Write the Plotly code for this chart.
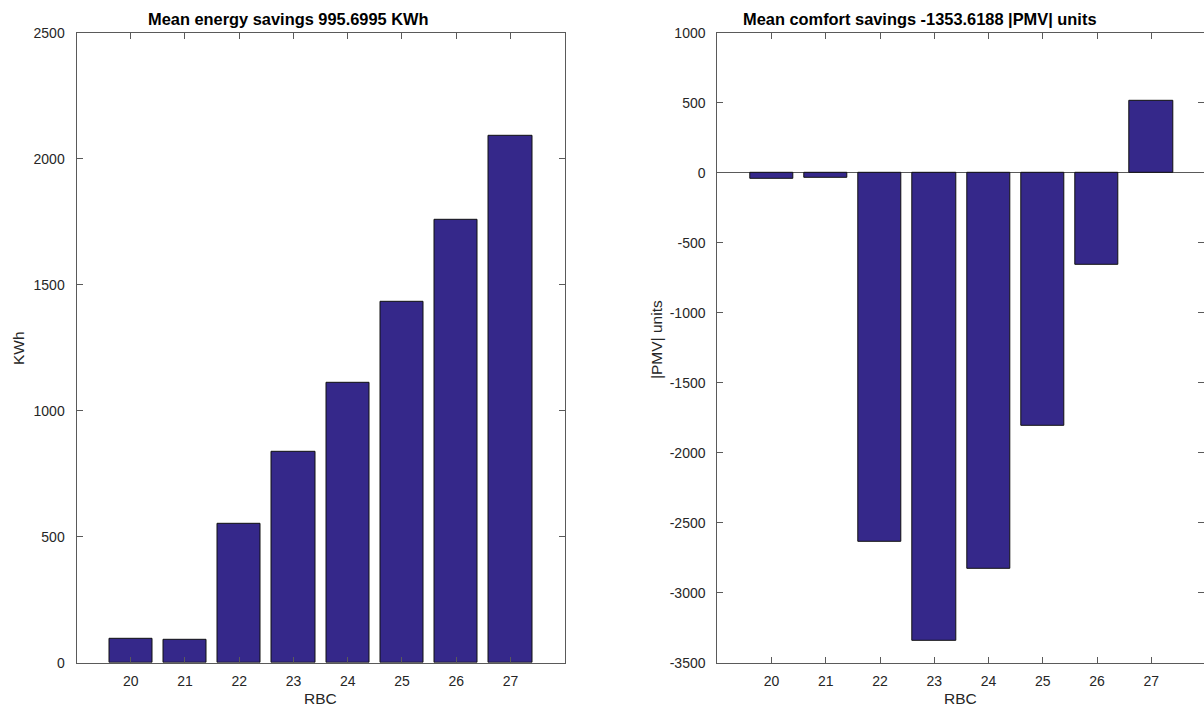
import plotly.graph_objects as go

W, H = 1204, 709

categories = [20, 21, 22, 23, 24, 25, 26, 27]
energy_savings = [94, 89, 553, 839, 1109, 1434, 1757, 2091]
comfort_savings = [-46, -36, -2639, -3344, -2832, -1804, -654, 511]

title_left = "Mean energy savings 995.6995 KWh"
title_right = "Mean comfort savings -1353.6188 |PMV| units"
ylabel_left = "KWh"
ylabel_right = "|PMV| units"
xlabel = "RBC"

left_yticks = [0, 500, 1000, 1500, 2000, 2500]
right_yticks = [-3500, -3000, -2500, -2000, -1500, -1000, -500, 0, 500, 1000]

BAR = "#35288a"
AX = "#5a5a5a"
TXT = "#262626"
FONT = "Liberation Sans"

fig = go.Figure()
fig.add_trace(go.Bar(x=categories, y=energy_savings, width=0.8,
                     marker=dict(color=BAR, line=dict(color="#111111", width=1)),
                     xaxis="x", yaxis="y", showlegend=False))
fig.add_trace(go.Bar(x=categories, y=comfort_savings, width=0.8,
                     marker=dict(color=BAR, line=dict(color="#111111", width=1)),
                     xaxis="x2", yaxis="y2", showlegend=False))

# pixel geometry
lx0, lx1 = 76.5, 564.7
rx0 = 717.3
px_per_unit = (lx1 - lx0) / 9.0
rx_end_val = 19 + (W - rx0) / px_per_unit
ytop, ybot = 32.8, 662.7

def xd(a, b):
    return [a / W, min(b / W, 1.0)]

yd = [(H - ybot) / H, (H - ytop) / H]

common_x = dict(showline=True, linecolor=AX, linewidth=1, mirror="ticks",
                ticks="inside", ticklen=6, tickcolor=AX, tickwidth=1,
                tickvals=categories, ticktext=[str(c) for c in categories],
                tickfont=dict(family=FONT, size=14, color=TXT),
                showgrid=False, zeroline=False, ticklabelstandoff=5,
                automargin=False)
common_y = dict(showline=True, linecolor=AX, linewidth=1, mirror="ticks",
                ticks="inside", ticklen=6, tickcolor=AX, tickwidth=1,
                tickfont=dict(family=FONT, size=14, color=TXT),
                showgrid=False, ticklabelstandoff=8, automargin=False)

fig.update_layout(
    template="none",
    width=W, height=H,
    margin=dict(l=0, r=0, t=0, b=0, autoexpand=False),
    paper_bgcolor="white", plot_bgcolor="white",
    bargap=0,
    xaxis=dict(domain=xd(lx0, lx1), range=[19, 28], anchor="y", **common_x),
    yaxis=dict(domain=yd, range=[0, 2500], anchor="x", tickvals=left_yticks,
               ticktext=[str(v) for v in left_yticks], zeroline=False, **common_y),
    xaxis2=dict(domain=xd(rx0, W), range=[19, rx_end_val], anchor="y2", **common_x),
    yaxis2=dict(domain=yd, range=[-3500, 1000], anchor="x2", tickvals=right_yticks,
                ticktext=[str(v) for v in right_yticks],
                zeroline=True, zerolinecolor=AX, zerolinewidth=1, **common_y),
)

ann = []
ann.append(dict(text="<b>" + title_left + "</b>", x=288 / W, y=(H - 19) / H,
                xref="paper", yref="paper", showarrow=False,
                font=dict(family=FONT, size=16.4, color="black"),
                xanchor="center", yanchor="middle"))
ann.append(dict(text="<b>" + title_right + "</b>", x=920 / W, y=(H - 19) / H,
                xref="paper", yref="paper", showarrow=False,
                font=dict(family=FONT, size=16.4, color="black"),
                xanchor="center", yanchor="middle"))
ann.append(dict(text=xlabel, x=320 / W, y=(H - 698) / H, xref="paper", yref="paper",
                showarrow=False, font=dict(family=FONT, size=15.5, color=TXT),
                xanchor="center", yanchor="middle"))
ann.append(dict(text=xlabel, x=960 / W, y=(H - 698) / H, xref="paper", yref="paper",
                showarrow=False, font=dict(family=FONT, size=15.5, color=TXT),
                xanchor="center", yanchor="middle"))
ann.append(dict(text=ylabel_left, x=18 / W, y=(H - 348) / H, xref="paper", yref="paper",
                showarrow=False, textangle=-90, font=dict(family=FONT, size=15.5, color=TXT),
                xanchor="center", yanchor="middle"))
ann.append(dict(text=ylabel_right, x=656 / W, y=(H - 340) / H, xref="paper", yref="paper",
                showarrow=False, textangle=-90, font=dict(family=FONT, size=15.5, color=TXT),
                xanchor="center", yanchor="middle"))
fig.update_layout(annotations=ann)

fig.write_html("out.html")
